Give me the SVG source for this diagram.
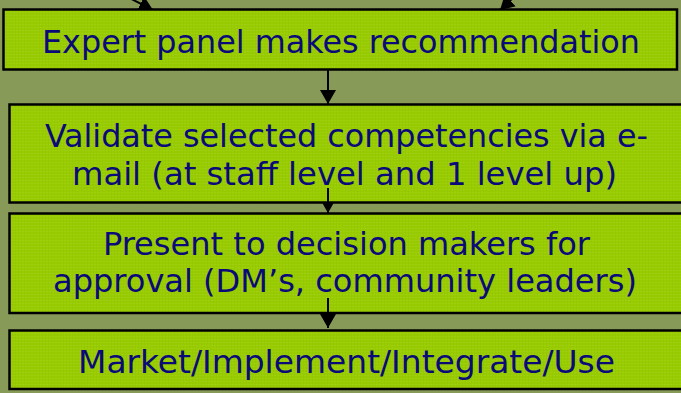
<svg xmlns="http://www.w3.org/2000/svg" width="681" height="393" viewBox="0 0 681 393">
  <style>
    .box { fill: url(#tex); stroke: #000; stroke-width: 2.5; }
    .lbl { font-family: "DejaVu Sans Condensed", "DejaVu Sans", Tahoma, sans-serif; font-size: 32px; fill: #0A0A78; text-anchor: middle; }
    .conn { stroke: #000; stroke-width: 2; fill: none; }
  </style>
  <defs>
    <pattern id="tex" width="6" height="6" patternUnits="userSpaceOnUse">
      <rect width="6" height="6" fill="#99CC00"/>
      <path d="M0 0.5H6M0 3.5H6" stroke="#A3D21A" stroke-width="1" opacity="0.5"/>
      <path d="M0.5 0V6M3.5 0V6" stroke="#8FC200" stroke-width="1" opacity="0.4"/>
    </pattern>
    <marker id="ah" markerUnits="userSpaceOnUse" markerWidth="16" markerHeight="16" refX="14" refY="8" orient="auto">
      <path d="M0 0L14 8L0 16Z" fill="#000"/>
    </marker>
  </defs>
  <rect width="681" height="393" fill="#879A57"/>

  <g id="connectors">
    <line class="conn" x1="110" y1="-12" x2="153" y2="10" marker-end="url(#ah)"/>
    <line class="conn" x1="528" y1="-16" x2="500" y2="10" marker-end="url(#ah)"/>
    <line class="conn" x1="328" y1="64" x2="328" y2="104" marker-end="url(#ah)"/>
    <line class="conn" x1="328" y1="188" x2="328" y2="213" marker-end="url(#ah)"/>
    <line class="conn" x1="328" y1="298" x2="328" y2="328" marker-end="url(#ah)"/>
  </g>

  <g id="n1">
    <rect class="box" x="3.5" y="9.5" width="673.5" height="60"/>
    <text class="lbl" x="341" y="53" textLength="598" lengthAdjust="spacingAndGlyphs">Expert panel makes recommendation</text>
  </g>
  <g id="n2">
    <rect class="box" x="9.5" y="104.5" width="690" height="98"/>
    <text class="lbl" x="346.5" y="147" textLength="603" lengthAdjust="spacingAndGlyphs">Validate selected competencies via e-</text>
    <text class="lbl" x="344.5" y="185" textLength="545" lengthAdjust="spacingAndGlyphs">mail (at staff level and 1 level up)</text>
  </g>
  <g id="n3">
    <rect class="box" x="9.5" y="213.5" width="690" height="99.5"/>
    <text class="lbl" x="346.5" y="255" textLength="487" lengthAdjust="spacingAndGlyphs">Present to decision makers for</text>
    <text class="lbl" x="345" y="292" textLength="584" lengthAdjust="spacingAndGlyphs">approval (DM’s, community leaders)</text>
  </g>
  <g id="n4">
    <rect class="box" x="9.5" y="330.5" width="690" height="58.5"/>
    <text class="lbl" x="346.5" y="373" textLength="537" lengthAdjust="spacingAndGlyphs">Market/Implement/Integrate/Use</text>
  </g>
  <g id="connectors-over">
    <line class="conn" x1="328" y1="188" x2="328" y2="202"/>
    <line class="conn" x1="328" y1="298" x2="328" y2="313"/>
  </g>
</svg>
